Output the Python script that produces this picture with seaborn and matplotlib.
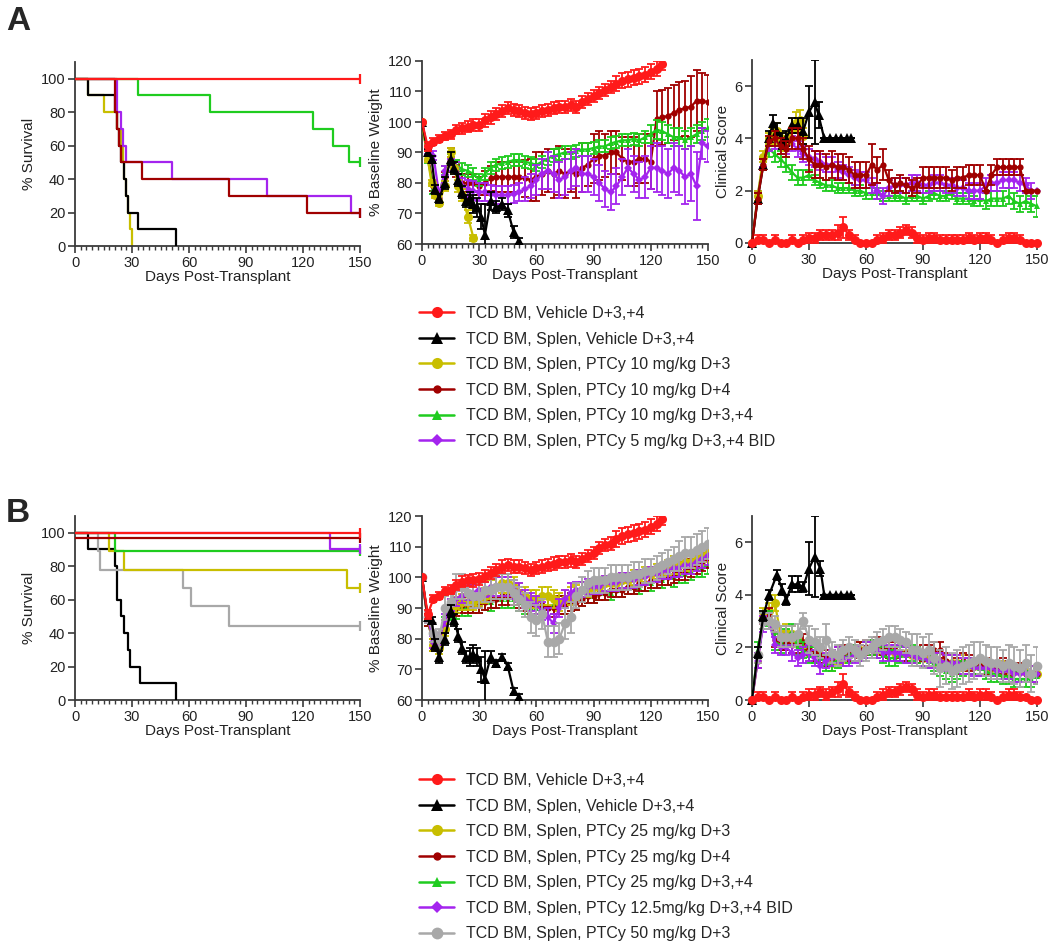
import matplotlib
matplotlib.use("Agg")
import matplotlib.pyplot as plt
from matplotlib.lines import Line2D
from matplotlib.ticker import MultipleLocator
import seaborn as sns

W, H = 1050, 947

# sampling days shared by most longitudinal series
DAYS = [0, 3, 6, 9, 12, 15, 18, 21, 24, 27,
        30, 33, 36, 39, 42, 45, 48, 51, 54, 57,
        60, 63, 66, 69, 72, 75, 78, 81, 84, 87,
        90, 93, 96, 99, 102, 105, 108, 111, 114, 117,
        120, 123, 126, 129, 132, 135, 138, 141, 144, 147,
        150]
RED_DAYS = DAYS[:43]  # vehicle group followed to day 126

LABELS_A = ["TCD BM, Vehicle D+3,+4",
            "TCD BM, Splen, Vehicle D+3,+4",
            "TCD BM, Splen, PTCy 10 mg/kg D+3",
            "TCD BM, Splen, PTCy 10 mg/kg D+4",
            "TCD BM, Splen, PTCy 10 mg/kg D+3,+4",
            "TCD BM, Splen, PTCy 5 mg/kg D+3,+4 BID"]
LABELS_B = ["TCD BM, Vehicle D+3,+4",
            "TCD BM, Splen, Vehicle D+3,+4",
            "TCD BM, Splen, PTCy 25 mg/kg D+3",
            "TCD BM, Splen, PTCy 25 mg/kg D+4",
            "TCD BM, Splen, PTCy 25 mg/kg D+3,+4",
            "TCD BM, Splen, PTCy 12.5mg/kg D+3,+4 BID",
            "TCD BM, Splen, PTCy 50 mg/kg D+3"]
KEYS_A = ["veh", "splen", "d3", "d4", "d34", "bid"]
KEYS_B = ["veh", "splen", "d3", "d4", "d34", "bid", "hi"]

# ---------------- survival (Kaplan-Meier steps) ----------------
A_S_RED_T, A_S_RED = [0, 150], [100, 100]
A_S_BLACK_T = [0, 7, 21, 22, 23, 24, 26, 27, 28, 33, 53]
A_S_BLACK = [100, 90, 80, 70, 60, 50, 40, 30, 20, 10, 0]
A_S_YEL_T = [0, 7, 15, 22, 24, 25, 26, 27, 28, 29, 30]
A_S_YEL = [100, 90, 80, 70, 60, 50, 40, 30, 20, 10, 0]
A_S_DR_T = [0, 21, 22, 23, 24, 35, 81, 122, 150]
A_S_DR = [100, 80, 70, 60, 50, 40, 30, 20, 20]
A_S_GRN_T = [0, 33, 71, 125, 136, 144, 150]
A_S_GRN = [100, 90, 80, 70, 60, 50, 50]
A_S_PUR_T = [0, 22, 24, 25, 27, 51, 101, 145, 150]
A_S_PUR = [100, 80, 70, 60, 50, 40, 30, 20, 20]

B_S_RED_T, B_S_RED = [0, 150], [100, 100]
B_S_DR_T, B_S_DR = [0, 150], [97, 97]
B_S_PUR_T, B_S_PUR = [0, 134, 150], [100, 90, 90]
B_S_GRN_T, B_S_GRN = [0, 21, 150], [100, 89, 89]
B_S_YEL_T, B_S_YEL = [0, 18, 26, 143, 150], [100, 89, 78, 67, 67]
B_S_GRAY_T = [0, 12, 13, 57, 61, 81, 150]
B_S_GRAY = [100, 89, 78, 67, 56, 44, 44]
B_S_BLACK_T = [0, 7, 21, 22, 24, 26, 28, 29, 34, 53]
B_S_BLACK = [100, 90, 80, 60, 50, 40, 30, 20, 10, 0]

# ---------------- % baseline weight, panel A ----------------
A_W_RED = [100, 92, 93.5, 94.5, 95.5, 96, 97.5, 98, 98.5, 99,
           99, 100.5, 101.5, 102.5, 103.5, 104.5, 104, 103.5, 103, 102.5,
           103, 103.5, 104, 104.5, 105, 105, 105.5, 105, 106.5, 107.5,
           108.5, 109.5, 110.5, 111.5, 112.5, 113.5, 114, 114.5, 115, 115.5,
           116.5, 117.5, 119]
A_W_RED_ERR = [0, 1.5, 1.2, 1.2, 1.3, 1.5, 1.5, 1.8, 1.8, 2,
               2, 2, 2, 2, 2, 2, 2, 2, 2, 2,
               2, 2, 2, 2, 2, 2, 2, 2, 2, 2,
               2, 2, 2, 2, 2.5, 2.5, 2.5, 2.5, 2.5, 2.5,
               2.5, 2.5, 2]
A_W_BLACK_T = [0, 3, 5, 7, 9, 12, 15, 17, 19, 21, 23, 25, 27, 29, 31, 33,
               36, 39, 42, 45, 48, 51]
A_W_BLACK = [100, 90, 88, 78, 75, 80, 88, 85, 81, 77, 74, 75, 73, 72, 69, 63,
             74, 72, 73, 71, 64, 61]
A_W_BLACK_ERR = [0, 1, 1, 1.5, 1.5, 2, 2, 2, 2, 2, 2, 2, 3, 3, 4, 10,
                 3, 2, 2, 2, 2, 1]
A_W_YEL_T = [0, 3, 5, 7, 9, 12, 15, 17, 19, 21, 24, 27]
A_W_YEL = [100, 88, 80, 76, 73.5, 79, 90, 85, 79, 76, 69, 62]
A_W_YEL_ERR = [0, 1, 1, 1, 1, 1.5, 1.5, 2, 2, 2, 2, 1]
A_W_DR = [100, 89, 79, 75, 82, 90, 84, 80, 80, 80,
          79, 80, 81.5, 82, 82, 82, 82, 82, 81.5, 81,
          82, 83, 84, 83, 84, 83, 84, 83, 85, 86,
          88, 89, 89, 90, 90, 88, 87, 87, 88, 88,
          87, 101, 101.5, 102, 103, 104, 104.5, 105, 107, 107,
          106.5]
A_W_DR_ERR = [0, 1.5, 1.5, 1.5, 1.5, 1.5, 2, 3, 3, 3,
              3, 4, 4, 5, 5, 5, 5, 5, 6, 7,
              8, 7, 7, 8, 8, 8, 7, 8, 8, 7,
              8, 8, 7, 7, 7, 7, 8, 8, 8, 8,
              9, 9, 9, 9, 9, 9, 9, 10, 10, 9,
              9]
A_W_GRN = [100, 88, 78, 76, 84, 88, 86, 84.5, 84, 83,
           81, 83, 85, 86, 86.5, 87, 87.5, 87.5, 87, 86.5,
           86, 87, 88, 89, 89.5, 90, 90, 90.5, 91, 91,
           91.5, 92, 92, 93, 93.5, 94, 94, 94.5, 94, 95,
           96, 97.5, 97, 96, 95, 95, 94, 95, 96, 97,
           98]
A_W_GRN_ERR = [0, 1.5, 1.5, 1.5, 1.5, 1.5, 1.5, 2, 2, 2,
               2, 2, 2, 2, 2, 2, 2, 2, 2, 2,
               2, 2, 2, 2, 2, 2, 2, 2, 2, 2,
               2, 2, 2, 2, 2, 2, 2, 2, 2, 2,
               3, 3, 3, 3, 3, 3, 3, 3, 3, 3,
               3]
A_W_PUR = [100, 91, 89, 76, 84, 86, 85, 79, 78, 77.5,
           77, 77, 76.5, 76, 76, 76, 76.5, 77, 78, 79,
           81, 83, 84, 83, 81, 82, 84, 85, 83, 83,
           82, 80, 78, 77, 79, 82, 85, 83, 81, 82,
           85, 85, 84, 83, 85, 84, 82, 83, 79, 93,
           92]
A_W_PUR_ERR = [0, 1.5, 1.5, 1.5, 1.5, 2, 2, 2.5, 3, 3,
               3, 3, 3, 3, 3, 3, 3, 3, 4, 4,
               5, 5, 6, 6, 6, 6, 6, 6, 6, 6,
               6, 6, 6, 6, 6, 6, 6, 6, 6, 7,
               7, 8, 8, 8, 8, 8, 9, 9, 11, 5,
               5]

# ---------------- clinical score, panel A ----------------
A_C_RED = [0, 0.1, 0.1, 0, 0.1, 0, 0, 0.1, 0, 0.1,
           0.2, 0.2, 0.3, 0.3, 0.3, 0.4, 0.6, 0.3, 0.1, 0,
           0, 0, 0.1, 0.2, 0.3, 0.3, 0.4, 0.5, 0.4, 0.2,
           0.1, 0.2, 0.2, 0.1, 0.1, 0.1, 0.1, 0.1, 0.2, 0.1,
           0.2, 0.2, 0.1, 0, 0.1, 0.2, 0.2, 0.1, 0, 0,
           0]
A_C_RED_ERR = [0, 0.2, 0.2, 0, 0.2, 0, 0, 0.2, 0, 0.2,
               0.2, 0.2, 0.2, 0.2, 0.2, 0.3, 0.4, 0.2, 0.2, 0,
               0, 0, 0.2, 0.2, 0.2, 0.2, 0.2, 0.2, 0.2, 0.2,
               0.2, 0.2, 0.2, 0.2, 0.2, 0.2, 0.2, 0.2, 0.2, 0.2,
               0.2, 0.2, 0.2, 0, 0.2, 0.2, 0.2, 0.2, 0, 0,
               0]
A_C_BLACK_T = [0, 3, 6, 9, 11, 13, 16, 18, 21, 24, 27, 30, 33, 35, 38,
               41, 44, 47, 50, 52]
A_C_BLACK = [0, 1.7, 3.0, 4.0, 4.6, 4.3, 3.9, 4.0, 4.5, 4.5, 4.3, 5.0, 5.4,
             4.9, 4.0, 4.0, 4.0, 4.0, 4.0, 4.0]
A_C_BLACK_ERR = [0, 0.2, 0.2, 0.3, 0.3, 0.3, 0.3, 0.3, 0.3, 0.3, 0.5, 1.0,
                 1.6, 0.5, 0, 0, 0, 0, 0, 0]
A_C_YEL_T = [0, 3, 6, 9, 11, 13, 15, 17, 19, 21, 23, 25, 27]
A_C_YEL = [0, 1.8, 3.3, 4.0, 4.1, 4.3, 4.0, 3.8, 3.9, 4.4, 4.6, 4.7, 4.1]
A_C_YEL_ERR = [0, 0.2, 0.2, 0.2, 0.3, 0.3, 0.2, 0.3, 0.3, 0.4, 0.4, 0.4, 0.3]
A_C_DR = [0, 1.7, 3.0, 3.9, 4.0, 3.7, 3.6, 4.0, 4.0, 3.6,
          3.2, 3.0, 3.0, 2.9, 3.0, 2.9, 2.9, 2.8, 2.6, 2.6,
          2.6, 3.0, 2.8, 3.0, 2.4, 2.2, 2.3, 2.2, 2.1, 2.2,
          2.5, 2.5, 2.5, 2.5, 2.5, 2.4, 2.5, 2.5, 2.6, 2.6,
          2.6, 2.0, 2.6, 2.9, 2.9, 2.9, 2.9, 2.9, 2.0, 2.0,
          2.0]
A_C_DR_ERR = [0, 0.2, 0.2, 0.2, 0.3, 0.3, 0.3, 0.4, 0.4, 0.4,
              0.5, 0.5, 0.5, 0.5, 0.5, 0.5, 0.5, 0.5, 0.5, 0.5,
              0.5, 0.8, 0.5, 0.6, 0.4, 0.3, 0.3, 0.3, 0.3, 0.3,
              0.4, 0.4, 0.4, 0.4, 0.4, 0.4, 0.4, 0.4, 0.4, 0.4,
              0.4, 0, 0.4, 0.3, 0.3, 0.3, 0.3, 0.3, 0, 0,
              0]
A_C_GRN = [0, 1.8, 3.1, 3.6, 3.4, 3.2, 3.0, 2.7, 2.5, 2.5,
           2.6, 2.4, 2.3, 2.2, 2.2, 2.1, 2.1, 2.1, 2.0, 2.0,
           1.9, 1.9, 1.9, 1.8, 1.8, 1.8, 1.8, 1.7, 1.8, 1.8,
           1.7, 1.8, 1.9, 1.8, 1.8, 1.9, 1.7, 1.7, 1.7, 1.6,
           1.7, 1.6, 1.7, 1.7, 1.7, 1.8, 1.6, 1.5, 1.6, 1.5,
           1.4]
A_C_GRN_ERR = [0, 0.2, 0.2, 0.3, 0.3, 0.3, 0.3, 0.3, 0.3, 0.3,
               0.2, 0.2, 0.2, 0.2, 0.2, 0.2, 0.2, 0.2, 0.2, 0.2,
               0.2, 0.2, 0.2, 0.2, 0.2, 0.2, 0.2, 0.2, 0.2, 0.2,
               0.2, 0.2, 0.2, 0.2, 0.2, 0.2, 0.2, 0.2, 0.2, 0.2,
               0.3, 0.3, 0.3, 0.3, 0.3, 0.3, 0.3, 0.3, 0.3, 0.3,
               0.4]
A_C_PUR = [0, 1.8, 3.1, 3.8, 3.9, 3.7, 3.7, 3.8, 3.6, 3.4,
           3.3, 3.2, 3.1, 3.0, 3.0, 2.8, 2.7, 2.6, 2.5, 2.4,
           2.4, 2.2, 2.0, 1.8, 2.1, 2.2, 2.2, 2.2, 2.3, 2.3,
           2.2, 2.2, 2.3, 2.3, 2.2, 2.2, 2.1, 2.1, 2.0, 2.0,
           2.0, 2.2, 2.3, 2.3, 2.4, 2.4, 2.4, 2.3, 2.2, 2.0,
           2.0]
A_C_PUR_ERR = [0, 0.2, 0.2, 0.3, 0.3, 0.3, 0.3, 0.3, 0.3, 0.3,
               0.3, 0.3, 0.3, 0.3, 0.3, 0.3, 0.3, 0.3, 0.3, 0.3,
               0.3, 0.3, 0.3, 0.3, 0.3, 0.3, 0.3, 0.3, 0.3, 0.3,
               0.3, 0.3, 0.3, 0.3, 0.3, 0.3, 0.3, 0.3, 0.3, 0.3,
               0.3, 0.3, 0.3, 0.3, 0.3, 0.3, 0.3, 0.3, 0.3, 0.3,
               0]

# ---------------- % baseline weight, panel B ----------------
B_W_RED = [100, 88, 93, 94, 95.5, 96, 97.5, 98.5, 99, 99,
           99.5, 100.5, 101.5, 102.5, 103.5, 104, 103.5, 103.5, 103, 102.5,
           103, 103.5, 104, 104.5, 105, 105, 105.5, 105, 106, 107,
           108, 109.5, 110.5, 111, 112.5, 113.5, 114, 114.5, 115, 115.5,
           116.5, 117.5, 119]
B_W_BLACK_T = [0, 3, 5, 7, 9, 12, 15, 17, 19, 21, 23, 25, 27, 29, 31, 33,
               36, 39, 42, 45, 48, 51]
B_W_BLACK = [100, 87, 86, 78, 74, 80, 89, 86, 81, 77, 74, 74, 75, 74, 70, 67,
             74, 72, 74, 71, 63, 61]
B_W_BLACK_ERR = [0, 1, 1, 2, 2, 2, 2, 2, 2, 2, 2, 3, 3, 3, 4, 9,
                 2, 1, 1, 1, 1, 1]
B_W_YEL = [100, 87, 78, 77, 83, 89, 91, 92, 92, 92,
           93, 94, 96, 97, 98, 98, 97, 95, 94, 93,
           93, 94, 94, 93, 92, 93, 94, 95, 96, 96,
           97, 97, 98, 98, 98, 99, 99, 100, 100, 101,
           101, 102, 102, 103, 104, 104, 105, 105, 106, 107,
           108]
B_W_DR = [100, 86, 78, 79, 84, 89, 90, 91, 91, 91,
          91, 92, 93, 93, 94, 94, 94, 93, 92, 91,
          91, 91, 90, 90, 91, 91, 92, 92, 93, 94,
          94, 95, 95, 96, 96, 96, 97, 97, 98, 98,
          99, 99, 100, 100, 101, 102, 102, 103, 104, 105,
          106]
B_W_GRN = [100, 86, 78, 78, 85, 88, 89, 90, 90, 91,
           91, 92, 92, 93, 93, 93, 93, 92, 91, 90,
           90, 90, 90, 91, 91, 91, 92, 92, 93, 94,
           94, 95, 95, 95, 96, 96, 97, 97, 97, 98,
           98, 99, 99, 100, 100, 101, 101, 102, 103, 103,
           104]
B_W_PUR = [100, 87, 79, 80, 86, 91, 93, 94, 95, 95,
           96, 96, 97, 97, 97, 97, 96, 95, 93, 92,
           91, 89, 87, 85, 90, 93, 95, 96, 96, 97,
           97, 97, 98, 98, 98, 99, 99, 99, 100, 100,
           101, 101, 102, 102, 103, 103, 104, 104, 105, 106,
           107]
B_W_GRAY = [100, 87, 82, 80, 90, 92, 97, 97, 95, 94,
            94, 96, 96, 97, 97, 97, 95, 93, 91, 87,
            86, 88, 79, 79, 80, 85, 87, 94, 96, 98,
            99, 99, 99, 100, 100, 100, 100, 101, 101, 102,
            102, 103, 104, 105, 106, 107, 108, 108, 109, 110,
            111]
B_W_ERR = [0, 2, 2, 2, 2, 2, 2.5, 2.5, 2.5, 2.5,
           2.5, 2.5, 3, 3, 3, 3, 3, 3, 3, 3,
           3, 3, 3, 3, 3, 3, 3, 2.5, 2.5, 2.5,
           2.5, 2.5, 2.5, 2.5, 2.5, 2.5, 2.5, 2.5, 2.5, 2.5,
           2.5, 2.5, 2.5, 2.5, 3, 3, 3, 3, 3, 3,
           3]
B_W_GRAY_ERR = [0, 2, 3, 3, 4, 4, 4, 4, 4, 4,
                4, 4, 4, 4, 4, 4, 4, 4, 4, 5,
                5, 5, 5, 5, 5, 5, 5, 4, 4, 4,
                4, 4, 4, 4, 4, 4, 4, 4, 4, 4,
                4, 4, 4, 4, 4, 5, 5, 5, 5, 5,
                5]

# ---------------- clinical score, panel B ----------------
B_C_RED = [0, 0.1, 0.1, 0, 0.1, 0, 0, 0.1, 0, 0.1,
           0.2, 0.2, 0.3, 0.2, 0.3, 0.4, 0.6, 0.3, 0.1, 0,
           0, 0, 0.1, 0.2, 0.3, 0.3, 0.4, 0.5, 0.4, 0.2,
           0.1, 0.2, 0.2, 0.1, 0.1, 0.1, 0.1, 0.1, 0.2, 0.1,
           0.2, 0.2, 0.1, 0, 0.1, 0.2, 0.2, 0.1, 0.1, 0,
           0]
B_C_BLACK_T = [0, 3, 6, 9, 13, 16, 18, 21, 24, 27, 30, 33, 36, 38, 41,
               44, 47, 50, 52]
B_C_BLACK = [0, 1.8, 3.2, 4.0, 4.75, 4.2, 3.8, 4.4, 4.4, 4.3, 5.0, 5.45,
             5.0, 4.0, 4.0, 4.0, 4.0, 4.0, 4.0]
B_C_BLACK_ERR = [0, 0.2, 0.2, 0.2, 0.2, 0.2, 0.2, 0.3, 0.3, 0.2, 1.0, 1.55,
                 0.3, 0, 0, 0, 0, 0, 0]
B_C_YEL = [0, 1.7, 3.2, 3.4, 3.7, 2.5, 2.6, 2.5, 2.3, 2.0,
           1.8, 1.8, 1.7, 1.6, 1.4, 1.5, 1.7, 1.8, 1.8, 1.9,
           1.9, 2.0, 2.0, 2.0, 1.9, 1.8, 1.8, 1.8, 1.7, 1.7,
           1.6, 1.6, 1.6, 1.5, 1.4, 1.4, 1.4, 1.4, 1.3, 1.3,
           1.3, 1.3, 1.2, 1.2, 1.2, 1.1, 1.1, 1.1, 1.1, 1.0,
           1.0]
B_C_DR = [0, 1.5, 3.0, 3.2, 2.3, 2.2, 2.2, 2.1, 2.1, 2.2,
          2.0, 1.8, 1.7, 1.6, 1.6, 1.7, 1.8, 1.8, 1.8, 1.9,
          2.0, 2.0, 2.1, 2.0, 1.9, 1.9, 1.8, 1.8, 1.7, 1.7,
          1.8, 1.8, 1.9, 1.9, 1.5, 1.4, 1.3, 1.5, 1.4, 1.3,
          1.3, 1.3, 1.2, 1.2, 1.3, 1.2, 1.1, 1.1, 1.0, 1.0,
          1.0]
B_C_GRN = [0, 1.9, 3.0, 3.1, 2.2, 2.1, 2.4, 2.6, 2.0, 1.9,
           1.7, 1.7, 1.6, 1.4, 1.4, 1.5, 1.6, 1.7, 1.8, 1.8,
           1.9, 2.0, 1.9, 1.7, 1.6, 1.6, 1.7, 1.7, 1.8, 1.7,
           1.6, 1.5, 1.4, 1.2, 1.1, 1.0, 1.1, 1.2, 1.3, 1.3,
           1.2, 1.1, 1.0, 1.0, 0.9, 0.9, 0.8, 0.8, 0.8, 0.8,
           0.9]
B_C_PUR = [0, 1.5, 2.9, 3.0, 2.1, 2.0, 2.0, 1.8, 1.6, 1.7,
           1.8, 1.6, 1.3, 1.5, 1.6, 1.7, 1.6, 1.6, 1.7, 1.8,
           1.9, 1.9, 1.9, 1.8, 1.8, 1.8, 1.8, 1.7, 1.7, 1.6,
           1.6, 1.5, 1.5, 1.5, 1.4, 1.4, 1.4, 1.3, 1.3, 1.2,
           1.2, 1.2, 1.2, 1.1, 1.1, 1.1, 1.0, 1.0, 1.0, 1.0,
           1.0]
B_C_GRAY = [0, 1.7, 3.0, 3.0, 2.9, 2.4, 2.4, 2.4, 2.5, 3.0,
            2.3, 2.2, 2.0, 2.3, 1.8, 1.7, 1.9, 2.0, 1.9, 1.7,
            1.9, 2.0, 2.2, 2.3, 2.4, 2.4, 2.3, 2.2, 1.9, 1.9,
            1.8, 1.9, 1.6, 1.2, 1.3, 1.1, 1.2, 1.3, 1.4, 1.5,
            1.6, 1.5, 1.4, 1.4, 1.3, 1.4, 1.3, 1.2, 1.4, 1.0,
            1.3]
B_C_ERR = [0, 0.3, 0.3, 0.3, 0.3, 0.3, 0.3, 0.3, 0.3, 0.3,
           0.3, 0.3, 0.3, 0.3, 0.3, 0.3, 0.3, 0.3, 0.3, 0.3,
           0.3, 0.3, 0.3, 0.3, 0.3, 0.3, 0.3, 0.3, 0.3, 0.3,
           0.3, 0.3, 0.3, 0.3, 0.3, 0.3, 0.3, 0.3, 0.3, 0.3,
           0.3, 0.3, 0.3, 0.3, 0.3, 0.3, 0.3, 0.3, 0.3, 0.3,
           0.3]
B_C_GRAY_ERR = [0, 0.3, 0.3, 0.3, 0.3, 0.4, 0.4, 0.4, 0.4, 0.3,
                0.5, 0.5, 0.4, 0.6, 0.4, 0.4, 0.4, 0.4, 0.4, 0.4,
                0.4, 0.4, 0.4, 0.4, 0.4, 0.4, 0.4, 0.4, 0.6, 0.6,
                0.6, 0.6, 0.6, 0.7, 0.7, 0.7, 0.7, 0.7, 0.7, 0.7,
                0.6, 0.6, 0.6, 0.6, 0.6, 0.7, 0.7, 0.7, 0.7, 0.7,
                0.7]

# colour, marker, marker size per treatment group
STYLES = {
    "veh": ("#FF1A1A", "o", 6.5),
    "splen": ("#000000", "^", 6.5),
    "d3": ("#C8BE00", "o", 6.5),
    "d4": ("#A00000", "o", 4.5),
    "d34": ("#1FCC1F", "^", 5.0),
    "bid": ("#A424EE", "D", 4.5),
    "hi": ("#A8A8A8", "o", 7.0),
}
SPINE = "#3A3A3A"

sns.set_theme(style="ticks")
plt.rcParams["font.family"] = ["Liberation Sans", "DejaVu Sans"]


def px_axes(fig, left, top, right, bottom):
    return fig.add_axes([left / W, 1 - bottom / H, (right - left) / W, (bottom - top) / H])


def style_axis(ax, ylim, yticks, ylabel, minor_x=True):
    ax.set_xlim(0, 150)
    ax.set_ylim(*ylim)
    ax.set_xticks([0, 30, 60, 90, 120, 150])
    ax.set_yticks(yticks)
    if minor_x:
        ax.xaxis.set_minor_locator(MultipleLocator(3))
    sns.despine(ax=ax)
    for sp in ("left", "bottom"):
        ax.spines[sp].set_color(SPINE)
        ax.spines[sp].set_linewidth(1.3)
    ax.tick_params(axis="both", which="major", direction="out", length=5, width=1.2,
                   color=SPINE, labelsize=10.5, pad=2, labelcolor="#222222")
    ax.tick_params(axis="x", which="minor", direction="out", length=3, width=1.0, color=SPINE)
    ax.set_xlabel("Days Post-Transplant", fontsize=11, labelpad=0, color="#222222")
    ax.set_ylabel(ylabel, fontsize=11, labelpad=3, color="#222222")


def draw_survival(ax, curves):
    for key, t, s, z in curves:
        color = STYLES[key][0]
        sns.lineplot(x=t, y=s, ax=ax, color=color, drawstyle="steps-post",
                     linewidth=1.6, zorder=z, errorbar=None)
        if s[-1] > 0:
            ax.plot(t[-1], s[-1], marker="|", ms=7, mew=1.6, color=color,
                    clip_on=False, zorder=z)


def draw_series(ax, x, y, e, key, z, clip=True):
    color, marker, ms = STYLES[key]
    ax.errorbar(x, y, yerr=e, fmt="none", ecolor=color, elinewidth=1.3,
                capsize=3, capthick=1.3, zorder=z)
    sns.lineplot(x=x, y=y, ax=ax, color=color, marker=marker, markersize=ms,
                 markeredgewidth=0, linewidth=1.6, zorder=z + 0.5,
                 errorbar=None, clip_on=clip)


fig = plt.figure(figsize=(W / 100, H / 100), dpi=100)

# ---------- panel A ----------
ax = px_axes(fig, 75, 62, 360, 246)
draw_survival(ax, [("splen", A_S_BLACK_T, A_S_BLACK, 3),
                   ("d3", A_S_YEL_T, A_S_YEL, 2),
                   ("bid", A_S_PUR_T, A_S_PUR, 4),
                   ("d4", A_S_DR_T, A_S_DR, 5),
                   ("d34", A_S_GRN_T, A_S_GRN, 6),
                   ("veh", A_S_RED_T, A_S_RED, 7)])
style_axis(ax, (0, 110), [0, 20, 40, 60, 80, 100], "% Survival")

ax = px_axes(fig, 422, 61, 708, 244)
draw_series(ax, DAYS, A_W_DR, A_W_DR_ERR, "d4", 3)
draw_series(ax, DAYS, A_W_GRN, A_W_GRN_ERR, "d34", 4)
draw_series(ax, DAYS, A_W_PUR, A_W_PUR_ERR, "bid", 5)
draw_series(ax, A_W_YEL_T, A_W_YEL, A_W_YEL_ERR, "d3", 6)
draw_series(ax, A_W_BLACK_T, A_W_BLACK, A_W_BLACK_ERR, "splen", 7)
draw_series(ax, RED_DAYS, A_W_RED, A_W_RED_ERR, "veh", 8)
style_axis(ax, (60, 120), [60, 70, 80, 90, 100, 110, 120], "% Baseline Weight")

ax = px_axes(fig, 752, 60, 1037, 243)
draw_series(ax, DAYS, A_C_GRN, A_C_GRN_ERR, "d34", 3, clip=False)
draw_series(ax, DAYS, A_C_PUR, A_C_PUR_ERR, "bid", 4, clip=False)
draw_series(ax, A_C_YEL_T, A_C_YEL, A_C_YEL_ERR, "d3", 5, clip=False)
draw_series(ax, A_C_BLACK_T, A_C_BLACK, A_C_BLACK_ERR, "splen", 6, clip=False)
draw_series(ax, DAYS, A_C_DR, A_C_DR_ERR, "d4", 7, clip=False)
draw_series(ax, DAYS, A_C_RED, A_C_RED_ERR, "veh", 8, clip=False)
style_axis(ax, (0, 7), [0, 2, 4, 6], "Clinical Score", minor_x=False)

# ---------- panel B ----------
ax = px_axes(fig, 75, 516, 360, 700)
draw_survival(ax, [("splen", B_S_BLACK_T, B_S_BLACK, 3),
                   ("hi", B_S_GRAY_T, B_S_GRAY, 4),
                   ("d3", B_S_YEL_T, B_S_YEL, 5),
                   ("d34", B_S_GRN_T, B_S_GRN, 6),
                   ("bid", B_S_PUR_T, B_S_PUR, 7),
                   ("d4", B_S_DR_T, B_S_DR, 8),
                   ("veh", B_S_RED_T, B_S_RED, 9)])
style_axis(ax, (0, 110), [0, 20, 40, 60, 80, 100], "% Survival")

ax = px_axes(fig, 422, 516, 708, 700)
draw_series(ax, DAYS, B_W_GRN, B_W_ERR, "d34", 3)
draw_series(ax, DAYS, B_W_DR, B_W_ERR, "d4", 4)
draw_series(ax, DAYS, B_W_YEL, B_W_ERR, "d3", 5)
draw_series(ax, DAYS, B_W_PUR, B_W_ERR, "bid", 6)
draw_series(ax, DAYS, B_W_GRAY, B_W_GRAY_ERR, "hi", 7)
draw_series(ax, B_W_BLACK_T, B_W_BLACK, B_W_BLACK_ERR, "splen", 8)
draw_series(ax, RED_DAYS, B_W_RED, A_W_RED_ERR, "veh", 9)
style_axis(ax, (60, 120), [60, 70, 80, 90, 100, 110, 120], "% Baseline Weight")

ax = px_axes(fig, 752, 516, 1037, 700)
draw_series(ax, DAYS, B_C_YEL, B_C_ERR, "d3", 3, clip=False)
draw_series(ax, DAYS, B_C_DR, B_C_ERR, "d4", 4, clip=False)
draw_series(ax, DAYS, B_C_GRN, B_C_ERR, "d34", 5, clip=False)
draw_series(ax, DAYS, B_C_PUR, B_C_ERR, "bid", 6, clip=False)
draw_series(ax, DAYS, B_C_GRAY, B_C_GRAY_ERR, "hi", 7, clip=False)
draw_series(ax, B_C_BLACK_T, B_C_BLACK, B_C_BLACK_ERR, "splen", 8, clip=False)
draw_series(ax, DAYS, B_C_RED, A_C_RED_ERR, "veh", 9, clip=False)
style_axis(ax, (0, 7), [0, 2, 4, 6], "Clinical Score", minor_x=False)


def legend_handles(keys):
    return [Line2D([0], [0], color=STYLES[k][0], marker=STYLES[k][1],
                   markersize=STYLES[k][2] + 1.5, markeredgewidth=0, linewidth=1.8)
            for k in keys]


for keys, labels, y_top in [(KEYS_A, LABELS_A, 306), (KEYS_B, LABELS_B, 773)]:
    fig.legend(legend_handles(keys), labels, loc="upper left",
               bbox_to_anchor=(419 / W, 1 - y_top / H), frameon=False,
               fontsize=11.5, handlelength=2.2, handletextpad=0.75,
               labelspacing=0.66, borderpad=0, borderaxespad=0)

fig.text(6 / W, 1 - 6 / H, "A", fontsize=24, fontweight="bold", va="top")
fig.text(6 / W, 1 - 498 / H, "B", fontsize=24, fontweight="bold", va="top")

fig.savefig("out.png", dpi=100)
